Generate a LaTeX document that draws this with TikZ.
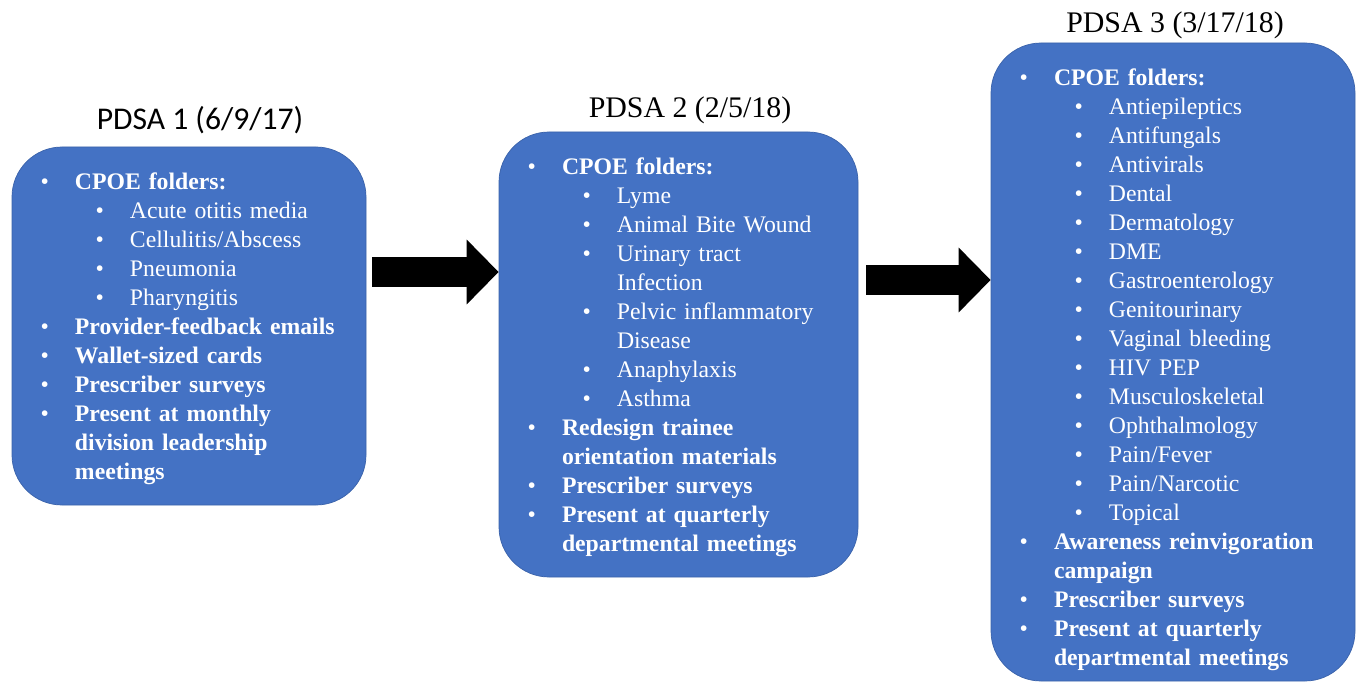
\documentclass[tikz,border=0pt]{standalone}
\usepackage{fontspec}
\setmainfont{Liberation Serif}
\newfontfamily\calfont{Carlito}
\usepackage{tikz}
\usetikzlibrary{arrows.meta}

\definecolor{pdsablue}{RGB}{68,114,196}
\definecolor{pdsaedge}{RGB}{58,98,170}

\newcommand{\pdsaitem}[1]{\par\leftskip=1.26cm\noindent\llap{\textbullet\hspace{0.52cm}}\textbf{#1}}
\newcommand{\folderitem}[1]{\par\leftskip=2.36cm\noindent\llap{\textbullet\hspace{0.52cm}}#1}

\tikzset{
pdsabox/.style={draw=pdsaedge, fill=pdsablue, rectangle, rounded corners=1cm, inner sep=0pt},
pdsalist/.style={anchor=base west, inner sep=0pt, text width=7cm, text=white, font=\fontsize{13.5}{16.5}\selectfont},
pdsatitle/.style={anchor=base, inner sep=0pt, font=\fontsize{17}{20}\selectfont},
blockarrow/.style={line width=0.6cm, -{Triangle[length=0.64cm,width=1.26cm]}}
}

\begin{document}
\begin{tikzpicture}
\useasboundingbox (0,0) rectangle (27.2,-13.66);

\node[pdsabox, xshift=3.78cm, yshift=-6.52cm, minimum width=7.08cm, minimum height=7.16cm] (b1) {};
\node[pdsabox, xshift=13.57cm, yshift=-7.09cm, minimum width=7.18cm, minimum height=8.9cm] (b2) {};
\node[pdsabox, xshift=23.46cm, yshift=-7.24cm, minimum width=7.28cm, minimum height=12.76cm] (b3) {};

\node[pdsatitle, xshift=4cm, yshift=-2.6cm, font=\calfont\fontsize{18}{20}\selectfont] (t1) {PDSA 1 (6/9/17)};
\node[pdsatitle, xshift=13.8cm, yshift=-2.36cm] (t2) {PDSA 2 (2/5/18)};
\node[pdsatitle, xshift=23.5cm, yshift=-0.66cm] (t3) {PDSA 3 (3/17/18)};

\node[pdsalist, yshift=-0.28cm] (l1) at (b1.north west) {%
\pdsaitem{CPOE folders:}
\folderitem{Acute otitis media}
\folderitem{Cellulitis/Abscess}
\folderitem{Pneumonia}
\folderitem{Pharyngitis}
\pdsaitem{Provider-feedback emails}
\pdsaitem{Wallet-sized cards}
\pdsaitem{Prescriber surveys}
\pdsaitem{Present at monthly\newline division leadership\newline meetings}\par};

\node[pdsalist, yshift=-0.28cm] (l2) at (b2.north west) {%
\pdsaitem{CPOE folders:}
\folderitem{Lyme}
\folderitem{Animal Bite Wound}
\folderitem{Urinary tract\newline Infection}
\folderitem{Pelvic inflammatory\newline Disease}
\folderitem{Anaphylaxis}
\folderitem{Asthma}
\pdsaitem{Redesign trainee\newline orientation materials}
\pdsaitem{Prescriber surveys}
\pdsaitem{Present at quarterly\newline departmental meetings}\par};

\node[pdsalist, yshift=-0.28cm] (l3) at (b3.north west) {%
\pdsaitem{CPOE folders:}
\folderitem{Antiepileptics}
\folderitem{Antifungals}
\folderitem{Antivirals}
\folderitem{Dental}
\folderitem{Dermatology}
\folderitem{DME}
\folderitem{Gastroenterology}
\folderitem{Genitourinary}
\folderitem{Vaginal bleeding}
\folderitem{HIV PEP}
\folderitem{Musculoskeletal}
\folderitem{Ophthalmology}
\folderitem{Pain/Fever}
\folderitem{Pain/Narcotic}
\folderitem{Topical}
\pdsaitem{Awareness reinvigoration\newline campaign}
\pdsaitem{Prescriber surveys}
\pdsaitem{Present at quarterly\newline departmental meetings}\par};

\coordinate (a1) at (7.44,-5.44);
\coordinate (a2) at (17.32,-5.6);
\draw[blockarrow] (a1) -- (a1 -| b2.west);
\draw[blockarrow] (a2) -- (a2 -| b3.west);
\end{tikzpicture}
\end{document}
